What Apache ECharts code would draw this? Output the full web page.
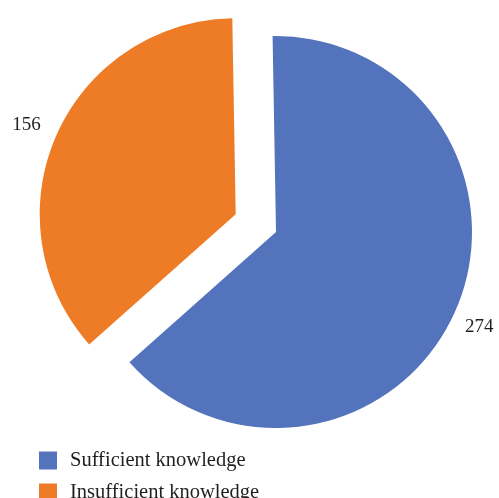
<!DOCTYPE html>
<html>
<head>
<meta charset="utf-8">
<script src="https://cdn.jsdelivr.net/npm/echarts@6/dist/echarts.min.js"></script>
<style>html,body{margin:0;padding:0;background:#fff}#c{width:499px;height:498px}</style>
</head>
<body>
<div id="c"></div>
<script>
const categories = ["Sufficient knowledge", "Insufficient knowledge"];
const values = [274, 156];
const colors = ["#5473BD", "#EE7B25"];
const explodedIndex = 1;

const chart = echarts.init(document.getElementById('c'), null, {renderer: 'canvas'});
const labelText = {fontFamily: 'Liberation Serif', fontSize: 19, color: '#231f20'};
chart.setOption({
  animation: false,
  color: colors,
  textStyle: {fontFamily: 'Liberation Serif'},
  legend: {
    orient: 'vertical',
    left: 39,
    top: 450,
    height: 60,
    padding: 0,
    itemWidth: 18,
    itemHeight: 18,
    itemGap: 11,
    icon: 'rect',
    selectedMode: false,
    textStyle: {fontFamily: 'Liberation Serif', fontSize: 20.5, lineHeight: 18, color: '#231f20', padding: [0, 0, 0, 8]},
    data: categories
  },
  series: [{
    type: 'pie',
    center: [276, 232],
    radius: 196,
    startAngle: 91,
    clockwise: true,
    avoidLabelOverlap: false,
    selectedMode: 'single',
    selectedOffset: 44,
    label: {
      show: true,
      position: 'outside',
      fontFamily: 'Liberation Serif',
      fontSize: 19,
      color: '#231f20',
      distanceToLabelLine: 0
    },
    labelLine: {show: false, length: 17, length2: 0},
    emphasis: {disabled: true},
    data: categories.map((n, i) => ({
      name: n,
      value: values[i],
      selected: i === explodedIndex,
      labelLine: i === explodedIndex ? {length2: 0} : {length2: -6},
      label: i === explodedIndex
        ? {formatter: '{o|{c}}', rich: {o: Object.assign({padding: [0, 0, 8, 0]}, labelText)}}
        : {formatter: '{b|{c}}', rich: {b: Object.assign({padding: [18, 4, 0, 0]}, labelText)}}
    }))
  }]
});
</script>
</body>
</html>
